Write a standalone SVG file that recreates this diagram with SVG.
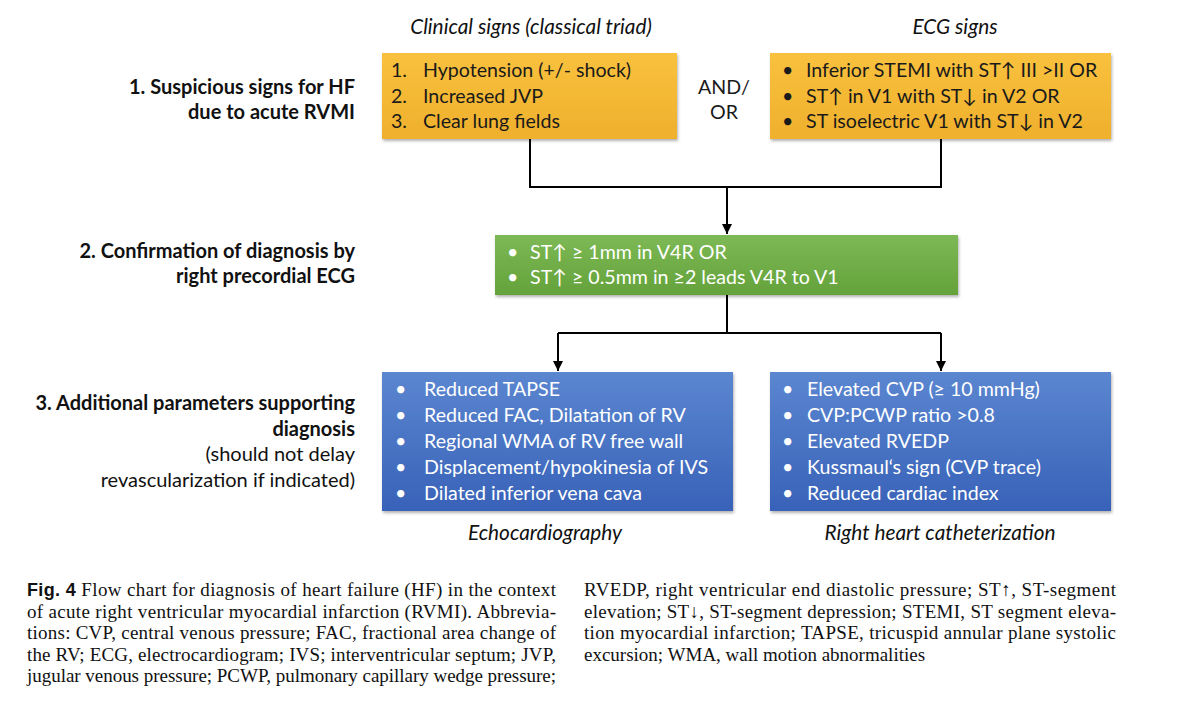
<svg xmlns="http://www.w3.org/2000/svg" width="1200" height="706" viewBox="0 0 1200 706">
<style>
.hd{font-family:Lato,"Open Sans",sans-serif;font-style:italic;font-size:20.8px;fill:#111;text-anchor:middle}
.lb{font-family:Lato,"Open Sans",sans-serif;font-weight:bold;font-size:20px;fill:#111;text-anchor:end}
.ln{font-family:Lato,"Open Sans",sans-serif;font-size:20px;fill:#111;text-anchor:end}
.bt{font-family:Lato,"Open Sans","DejaVu Sans",sans-serif;font-size:19.6px}
.dk{fill:#1a1a1a}
.wh{fill:#ffffff}
.cap{font-family:"Liberation Serif","Times New Roman",serif;font-size:19px;fill:#111}
.capb{font-family:"Liberation Sans",Arial,sans-serif;font-weight:bold;font-size:18px}
.conn{stroke:#000;stroke-width:2;fill:none}
</style>
<defs>
<linearGradient id="gO" x1="0" y1="0" x2="0" y2="1"><stop offset="0" stop-color="#F9C13E"/><stop offset="1" stop-color="#EFB02C"/></linearGradient>
<linearGradient id="gG" x1="0" y1="0" x2="0" y2="1"><stop offset="0" stop-color="#7DB955"/><stop offset="1" stop-color="#64A23B"/></linearGradient>
<linearGradient id="gB" x1="0" y1="0" x2="0" y2="1"><stop offset="0" stop-color="#5B86D0"/><stop offset="1" stop-color="#3862B8"/></linearGradient>
<filter id="sh" x="-5%" y="-10%" width="110%" height="125%"><feDropShadow dx="1" dy="2" stdDeviation="1.5" flood-color="#000" flood-opacity="0.3"/></filter>
<marker id="ah" viewBox="0 0 10 10" refX="10" refY="5" markerWidth="5" markerHeight="5" orient="auto"><path d="M0,0 L10,5 L0,10 z" fill="#000"/></marker>
</defs>
<rect width="1200" height="706" fill="#fff"/>

<g id="headers">
<text class="hd" x="531" y="34">Clinical signs (classical triad)</text>
<text class="hd" x="955" y="34">ECG signs</text>
</g>

<g id="labels">
<text class="lb" x="355" y="94">1. Suspicious signs for HF </text>
<text class="lb" x="355" y="119">due to acute RVMI</text>
<text class="lb" x="355" y="258">2. Confirmation of diagnosis by</text>
<text class="lb" x="355" y="283">right precordial ECG</text>
<text class="lb" x="355" y="410">3. Additional parameters supporting</text>
<text class="lb" x="355" y="436">diagnosis</text>
<text class="ln" x="355" y="461">(should not delay</text>
<text class="ln" x="355" y="487">revascularization if indicated)</text>
</g>

<g id="connectors">
<path class="conn" d="M530,139 V187 H941 V139"/>
<path class="conn" d="M727,187 V234" marker-end="url(#ah)"/>
<path class="conn" d="M727,295 V333"/>
<path class="conn" d="M558,333 H941"/>
<path class="conn" d="M558,333 V371" marker-end="url(#ah)"/>
<path class="conn" d="M941,333 V371" marker-end="url(#ah)"/>
</g>

<g id="clinical">
<rect x="382" y="53" width="295" height="86" fill="url(#gO)" filter="url(#sh)"/>
<text class="bt dk" x="391" y="77">1.</text><text class="bt dk" x="423" y="77">Hypotension (+/- shock)</text>
<text class="bt dk" x="391" y="103">2.</text><text class="bt dk" x="423" y="103">Increased JVP</text>
<text class="bt dk" x="391" y="128">3.</text><text class="bt dk" x="423" y="128">Clear lung fields</text>
</g>

<g id="andor">
<text class="bt dk" x="724" y="94" text-anchor="middle">AND/</text>
<text class="bt dk" x="724" y="119" text-anchor="middle">OR</text>
</g>

<g id="ecg">
<rect x="770" y="53" width="341" height="86" fill="url(#gO)" filter="url(#sh)"/>
<text class="bt dk" x="782" y="77">•</text><text class="bt dk" x="806" y="77">Inferior STEMI with ST↑ III &gt;II OR</text>
<text class="bt dk" x="782" y="103">•</text><text class="bt dk" x="806" y="103">ST↑ in V1 with ST↓ in V2 OR</text>
<text class="bt dk" x="782" y="128">•</text><text class="bt dk" x="806" y="128">ST isoelectric V1 with ST↓ in V2</text>
</g>

<g id="confirm">
<rect x="495" y="235" width="463" height="60" fill="url(#gG)" filter="url(#sh)"/>
<text class="bt wh" x="507" y="259">•</text><text class="bt wh" x="530" y="259">ST↑ ≥ 1mm in V4R OR</text>
<text class="bt wh" x="507" y="284">•</text><text class="bt wh" x="530" y="284">ST↑ ≥ 0.5mm in ≥2 leads V4R to V1</text>
</g>

<g id="echo">
<rect x="382" y="372" width="351" height="139" fill="url(#gB)" filter="url(#sh)"/>
<text class="bt wh" x="395" y="396">•</text><text class="bt wh" x="424" y="396">Reduced TAPSE</text>
<text class="bt wh" x="395" y="422">•</text><text class="bt wh" x="424" y="422">Reduced FAC, Dilatation of RV</text>
<text class="bt wh" x="395" y="448">•</text><text class="bt wh" x="424" y="448">Regional WMA of RV free wall</text>
<text class="bt wh" x="395" y="474">•</text><text class="bt wh" x="424" y="474">Displacement/hypokinesia of IVS</text>
<text class="bt wh" x="395" y="500">•</text><text class="bt wh" x="424" y="500">Dilated inferior vena cava</text>
</g>

<g id="rhc">
<rect x="770" y="372" width="341" height="139" fill="url(#gB)" filter="url(#sh)"/>
<text class="bt wh" x="782" y="396">•</text><text class="bt wh" x="807" y="396">Elevated CVP (≥ 10 mmHg)</text>
<text class="bt wh" x="782" y="422">•</text><text class="bt wh" x="807" y="422">CVP:PCWP ratio &gt;0.8</text>
<text class="bt wh" x="782" y="448">•</text><text class="bt wh" x="807" y="448">Elevated RVEDP</text>
<text class="bt wh" x="782" y="474">•</text><text class="bt wh" x="807" y="474">Kussmaul‘s sign (CVP trace)</text>
<text class="bt wh" x="782" y="500">•</text><text class="bt wh" x="807" y="500">Reduced cardiac index</text>
</g>

<g id="footers">
<text class="hd" x="545" y="540">Echocardiography</text>
<text class="hd" x="940" y="540">Right heart catheterization</text>
</g>

<g id="caption">
<text class="cap" x="27" y="596" textLength="529" lengthAdjust="spacing"><tspan class="capb">Fig. 4</tspan>  Flow chart for diagnosis of heart failure (HF) in the context</text>
<text class="cap" x="27" y="617.5" textLength="529" lengthAdjust="spacing">of acute right ventricular myocardial infarction (RVMI). Abbrevia-</text>
<text class="cap" x="27" y="639" textLength="529" lengthAdjust="spacing">tions: CVP, central venous pressure; FAC, fractional area change of</text>
<text class="cap" x="27" y="660.5" textLength="529" lengthAdjust="spacing">the RV; ECG, electrocardiogram; IVS; interventricular septum; JVP,</text>
<text class="cap" x="27" y="682" textLength="529" lengthAdjust="spacing">jugular venous pressure; PCWP, pulmonary capillary wedge pressure;</text>
<text class="cap" x="584" y="596" textLength="532" lengthAdjust="spacing">RVEDP, right ventricular end diastolic pressure; ST↑, ST-segment</text>
<text class="cap" x="584" y="617.5" textLength="532" lengthAdjust="spacing">elevation; ST↓, ST-segment depression; STEMI, ST segment eleva-</text>
<text class="cap" x="584" y="639" textLength="532" lengthAdjust="spacing">tion myocardial infarction; TAPSE, tricuspid annular plane systolic</text>
<text class="cap" x="584" y="660.5">excursion; WMA, wall motion abnormalities</text>
</g>
</svg>
